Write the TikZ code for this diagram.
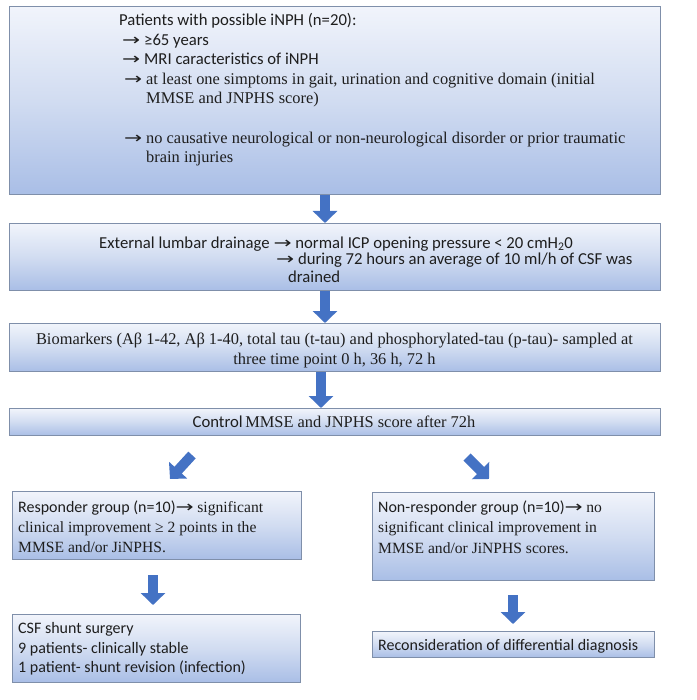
\documentclass[tikz,border=0pt]{standalone}
\usepackage{graphicx}
\usepackage{fontspec}
\setmainfont{Liberation Serif}
\newfontfamily\carlfont{Carlito}
\newfontfamily\arrfont{DejaVu Sans}
\usetikzlibrary{arrows.meta}
\definecolor{boxline}{HTML}{7F8FAA}
\definecolor{gtop}{HTML}{F1F4FB}
\definecolor{gmid}{HTML}{D1DCF1}
\definecolor{gbot}{HTML}{A9BEE6}
\definecolor{arrowblue}{HTML}{4472C4}
\definecolor{txt}{HTML}{1E1E1E}
\newcommand\carlA{\carlfont\fontsize{16.7}{19}\selectfont}
\newcommand\carlB{\carlfont\fontsize{16}{19}\selectfont}
\newcommand\timA{\rmfamily\fontsize{16.4}{19}\selectfont}
\newcommand\timB{\rmfamily\fontsize{15.6}{19}\selectfont}
\newcommand\ra{{\arrfont\fontsize{16}{16}\selectfont\scalebox{1.35}[1]{\char"2192}}}
\newcommand\rab[1]{\makebox[#1][l]{\ra}}
\begin{document}
\begin{tikzpicture}[x=1pt,y=-1pt,
  box/.style={draw=boxline, line width=1.2pt, top color=gtop, bottom color=gbot, middle color=gmid, anchor=north west, inner sep=0pt},
  blockarrow/.style={color=arrowblue, line width=10pt, -{Triangle[width=24pt,length=12pt]}},
  lbl/.style={anchor=base west, inner sep=0pt, text=txt},
  clbl/.style={anchor=base, inner sep=0pt, text=txt}]
\fill[white] (0,0) rectangle (696,700);
\useasboundingbox (0,0) rectangle (696,700);
% boxes
\node[box, minimum width=651pt, minimum height=188pt] (b1) at (9,6) {};
\node[box, minimum width=651pt, minimum height=67pt] (b2) at (9,223) {};
\node[box, minimum width=651pt, minimum height=48pt] (b3) at (9,323) {};
\node[box, minimum width=651pt, minimum height=27pt] (b4) at (9,408) {};
\node[box, minimum width=289pt, minimum height=68pt] (b5) at (12,491) {};
\node[box, minimum width=282pt, minimum height=88pt] (b6) at (372,492) {};
\node[box, minimum width=288pt, minimum height=68pt] (b7) at (12,614) {};
\node[box, minimum width=282pt, minimum height=26pt] (b8) at (372,631) {};
% arrow columns
\coordinate (xa) at (325,0);
\coordinate (xb) at (321,0);
\coordinate (xl) at (153,0);
\coordinate (xr) at (513,0);
\coordinate (la1) at (192,455);
\coordinate (la2) at (170,479);
\coordinate (ra1) at (467,457);
\coordinate (ra2) at (489,479);
\draw[blockarrow] (b1.south -| xa) -- (b2.north -| xa);
\draw[blockarrow] (b2.south -| xa) -- (b3.north -| xa);
\draw[blockarrow] (b3.south -| xb) -- (b4.north -| xb);
\draw[blockarrow] (la1) -- (la2);
\draw[blockarrow] (ra1) -- (ra2);
\draw[blockarrow, shorten <=15pt, shorten >=9pt] (b5.south -| xl) -- (b7.north -| xl);
\draw[blockarrow, shorten <=14pt, shorten >=7pt] (b6.south -| xr) -- (b8.north -| xr);
% box 1 text
\node[lbl] (t1a) at (119,26) {\carlA Patients with possible iNPH (n=20):};
\node[lbl] (t1b) at (122,45.5) {\carlA\rab{22pt}≥65 years};
\node[lbl] (t1c) at (122,65) {\carlA\rab{22pt}MRI caracteristics of iNPH};
\node[lbl] (t1d) at (124,85) {\timA\rab{22pt}at least one simptoms in gait, urination and cognitive domain (initial};
\node[lbl] (t1e) at (146,104) {\timA MMSE and JNPHS score)};
\node[lbl] (t1f) at (124,144) {\timA\rab{22pt}no causative neurological or non-neurological disorder or prior traumatic};
\node[lbl] (t1g) at (146,163) {\timA brain injuries};
% box 2 text
\node[lbl] (t2a) at (99,248) {\carlA External lumbar drainage \ra{} normal ICP opening pressure < 20 cmH\textsubscript{2}0};
\node[lbl] (t2b) at (276,265) {\carlA\ra{} during 72 hours an average of 10 ml/h of CSF was};
\node[lbl] (t2c) at (288,282) {\carlA drained};
% box 3 text
\node[clbl] (t3a) at (334.5,344) {\timA Biomarkers (Aβ 1-42, Aβ 1-40, total tau (t-tau) and phosphorylated-tau (p-tau)- sampled at};
\node[clbl] (t3b) at (334.5,364) {\timA three time point 0 h, 36 h, 72 h};
% box 4 text
\node[clbl] (t4) at (334,427) {{\carlA Control} \timA MMSE and JNPHS score after 72h};
% box 5 text
\node[lbl] (t5a) at (18,512) {\carlB Responder group (n=10)\ra{} \timB significant};
\node[lbl] (t5b) at (18,532) {\timB clinical improvement ≥ 2 points in the};
\node[lbl] (t5c) at (18,552) {\timB MMSE and/or JiNPHS.};
% box 6 text
\node[lbl] (t6a) at (378,512) {\carlB Non-responder group (n=10)\ra{} \timB no};
\node[lbl] (t6b) at (378,532) {\timB significant clinical improvement in};
\node[lbl] (t6c) at (378,553) {\timB MMSE and/or JiNPHS scores.};
% box 7 text
\node[lbl] (t7a) at (18,633) {\carlB CSF shunt surgery};
\node[lbl] (t7b) at (18,653) {\carlB 9 patients- clinically stable};
\node[lbl] (t7c) at (18,672) {\carlB 1 patient- shunt revision (infection)};
% box 8 text
\node[lbl] (t8) at (378,650) {\carlB Reconsideration of differential diagnosis};
\end{tikzpicture}
\end{document}
